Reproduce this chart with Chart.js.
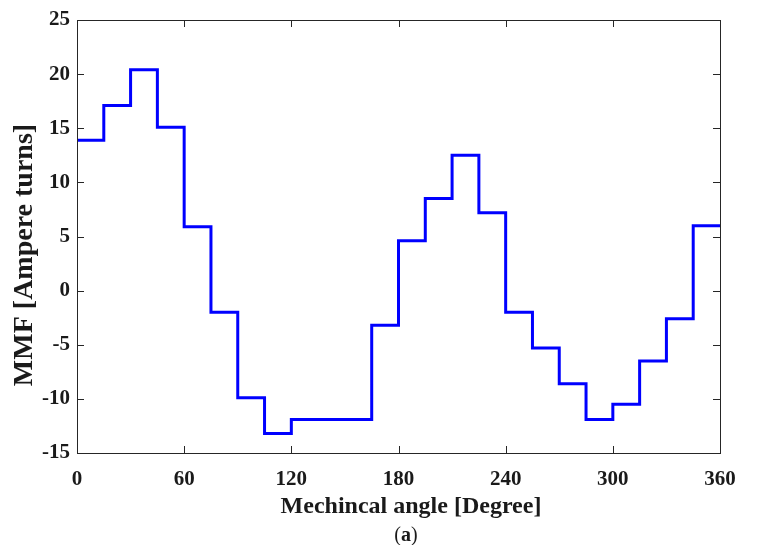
<!DOCTYPE html>
<html>
<head>
<meta charset="utf-8">
<script src="https://cdn.jsdelivr.net/npm/chart.js@4.4.1/dist/chart.umd.min.js"></script>
<style>
  html, body { margin: 0; padding: 0; background: #fff; }
  #wrap { width: 767px; height: 545px; }
</style>
</head>
<body>
<div id="wrap"><canvas id="chart1"></canvas></div>
<script>
// step start angles (degree) and MMF level held over each 15 degree step
const stepStart = [0, 15, 30, 45, 60, 75, 90, 105, 120, 135, 150, 165,
                   180, 195, 210, 225, 240, 255, 270, 285, 300, 315, 330, 345];
const stepEnd = 360;
const mmf = [13.9, 17.1, 20.4, 15.1, 5.9, -2.0, -9.9, -13.2, -11.9, -11.9, -11.9, -3.2,
             4.6, 8.5, 12.5, 7.2, -2.0, -5.3, -8.6, -11.9, -10.5, -6.5, -2.6, 6.0];
const xTicks = [0, 60, 120, 180, 240, 300, 360];
const yTicks = [-15, -10, -5, 0, 5, 10, 15, 20, 25];

const txt = '#1a1a1a';
const serif = "'Liberation Serif', 'Times New Roman', serif";

window.onload = function () {

    let points = stepStart.map((a, i) => ({x: a, y: mmf[i]}));
    points.push({x: stepEnd, y: mmf[mmf.length - 1]});

    // matlab style box, inward ticks, axis labels and caption
    let frame = {
        id: 'frame',
        afterDraw(chart) {
            let ctx = chart.ctx, a = chart.chartArea;
            let x = chart.scales.x, y = chart.scales.y;
            ctx.save();
            ctx.strokeStyle = '#262626';
            ctx.lineWidth = 1;
            ctx.strokeRect(a.left + 0.5, a.top + 0.5, a.width, a.height);
            ctx.beginPath();
            xTicks.forEach(v => {
                let px = Math.round(x.getPixelForValue(v)) + 0.5;
                ctx.moveTo(px, a.bottom); ctx.lineTo(px, a.bottom - 7);
                ctx.moveTo(px, a.top); ctx.lineTo(px, a.top + 7);
            });
            yTicks.forEach(v => {
                let py = Math.round(y.getPixelForValue(v)) + 0.5;
                ctx.moveTo(a.left, py); ctx.lineTo(a.left + 7, py);
                ctx.moveTo(a.right, py); ctx.lineTo(a.right - 7, py);
            });
            ctx.stroke();

            ctx.fillStyle = txt;
            ctx.textAlign = 'center';
            ctx.textBaseline = 'middle';
            ctx.font = 'bold 24px ' + serif;
            ctx.fillText('Mechincal angle [Degree]', 411, 507);

            ctx.translate(25, 255);
            ctx.rotate(-Math.PI / 2);
            ctx.font = 'bold 28px ' + serif;
            ctx.fillText('MMF [Ampere turns]', 0, 0);
            ctx.restore();

            // caption (a)
            ctx.save();
            ctx.fillStyle = txt;
            ctx.textBaseline = 'middle';
            let normal = '20px ' + serif, bold = 'bold 20px ' + serif;
            ctx.font = normal;
            let w1 = ctx.measureText('(').width, w3 = ctx.measureText(')').width;
            ctx.font = bold;
            let w2 = ctx.measureText('a').width;
            let sx = 406 - (w1 + w2 + w3) / 2, cy = 536;
            ctx.font = normal; ctx.fillText('(', sx, cy);
            ctx.font = bold; ctx.fillText('a', sx + w1, cy);
            ctx.font = normal; ctx.fillText(')', sx + w1 + w2, cy);
            ctx.restore();
        }
    };

    let chart1 = document.getElementById('chart1').getContext('2d');

    let mmfChart = new Chart(chart1, {
        type: 'line',
        data: {
            datasets: [{
                label: 'MMF',
                data: points,
                stepped: 'before',
                borderColor: '#0000ff',
                borderWidth: 3,
                pointRadius: 0,
                fill: false
            }]
        },
        options: {
            responsive: true,
            maintainAspectRatio: false,
            animation: false,
            layout: {padding: {top: 20, right: 47, left: 0, bottom: 24}},
            plugins: {legend: {display: false}, tooltip: {enabled: false}},
            scales: {
                x: {
                    type: 'linear',
                    min: 0, max: 360,
                    afterBuildTicks: s => { s.ticks = xTicks.map(v => ({value: v})); },
                    grid: {display: false, drawTicks: false},
                    border: {display: false},
                    ticks: {color: txt, padding: 14, maxRotation: 0,
                            font: {family: serif, size: 21, weight: 'bold'}},
                    afterFit: s => { s.height = 68; }
                },
                y: {
                    type: 'linear',
                    min: -15, max: 25,
                    afterBuildTicks: s => { s.ticks = yTicks.map(v => ({value: v})); },
                    grid: {display: false, drawTicks: false},
                    border: {display: false},
                    ticks: {color: txt, padding: 7,
                            font: {family: serif, size: 21, weight: 'bold'}},
                    afterFit: s => { s.width = 77; }
                }
            }
        },
        plugins: [frame]
    });
}
</script>
</body>
</html>
